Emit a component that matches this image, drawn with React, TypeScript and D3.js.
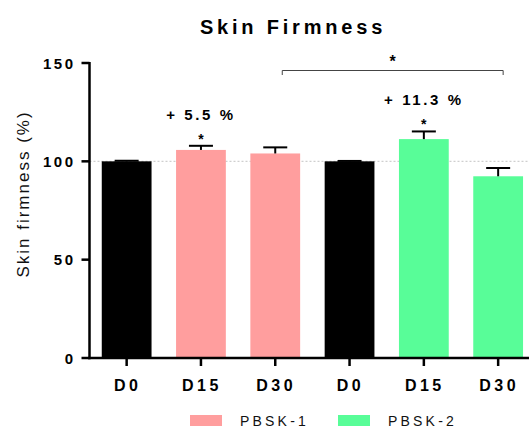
import React from "react";
import * as d3 from "d3";

const categories = ["D0", "D15", "D30", "D0", "D15", "D30"];
const groups = ["ctrl", "PBSK-1", "PBSK-1", "ctrl", "PBSK-2", "PBSK-2"];
const values = [100, 105.8, 104.0, 100, 111.3, 92.4];
const errors = [0.3, 2.1, 3.1, 0.2, 3.9, 4.2];
const stars = [false, true, false, false, true, false];
const yTicks = [0, 50, 100, 150];
const legendItems = ["PBSK-1", "PBSK-2"];
const annotations = [
  { index: 1, text: "+ 5.5 %" },
  { index: 4, text: "+ 11.3 %" },
];

const colors: Record<string, string> = {
  ctrl: "#000000",
  "PBSK-1": "#ff9e9e",
  "PBSK-2": "#58fd98",
};

const W = 529;
const H = 428;
const font = "'Liberation Sans', Arial, sans-serif";

export default function App() {
  const axisX = 89.5;
  const x = d3
    .scaleBand<number>()
    .domain(categories.map((_, i) => i))
    .range([axisX, axisX + 6 * 74.3])
    .paddingInner(0.33)
    .paddingOuter(0.165);
  const y = d3.scaleLinear().domain([0, 150]).range([358, 63]);
  const bw = x.bandwidth();
  const cx = (i: number) => (x(i) as number) + bw / 2;

  return (
    <svg
      width={W}
      height={H}
      style={{ position: "absolute", left: 0, top: 0, background: "#fff" }}
      fontFamily={font}
    >
      <text
        x={293}
        y={34}
        textAnchor="middle"
        fontSize={20}
        fontWeight="bold"
        letterSpacing={3.8}
      >
        Skin Firmness
      </text>

      {/* reference dotted line at 100 */}
      <line
        x1={axisX}
        x2={W}
        y1={y(100)}
        y2={y(100)}
        stroke="#cfcfcf"
        strokeWidth={1.2}
        strokeDasharray="2,2"
      />

      {/* bars */}
      {values.map((v, i) => (
        <rect
          key={"b" + i}
          x={x(i)}
          y={y(v)}
          width={bw}
          height={y(0) - y(v)}
          fill={colors[groups[i]]}
        />
      ))}

      {/* error bars */}
      {values.map((v, i) => (
        <g key={"e" + i} stroke="#000" strokeWidth={2}>
          <line x1={cx(i)} x2={cx(i)} y1={y(v)} y2={y(v + errors[i])} />
          <line
            x1={cx(i) - 12}
            x2={cx(i) + 12}
            y1={y(v + errors[i])}
            y2={y(v + errors[i])}
          />
        </g>
      ))}

      {/* small stars */}
      {values.map((v, i) =>
        stars[i] ? (
          <text
            key={"s" + i}
            x={cx(i)}
            y={y(v + errors[i]) - 2}
            textAnchor="middle"
            fontSize={14}
            fontWeight="bold"
          >
            *
          </text>
        ) : null
      )}

      {/* annotations */}
      {annotations.map((a) => (
        <text
          key={"a" + a.index}
          x={cx(a.index)}
          y={y(values[a.index] + errors[a.index]) - 26}
          textAnchor="middle"
          fontSize={15}
          fontWeight="bold"
          letterSpacing={2.6}
        >
          {a.text}
        </text>
      ))}

      {/* bracket */}
      <g stroke="#444" strokeWidth={1} fill="none">
        <path d={`M${cx(2) + 7},${75} V${70.5} H${cx(5) + 5} V${75}`} />
      </g>
      <text
        x={(cx(2) + 7 + cx(5) + 5) / 2}
        y={67}
        textAnchor="middle"
        fontSize={16}
        fontWeight="bold"
      >
        *
      </text>

      {/* y axis */}
      <line x1={axisX} x2={axisX} y1={y(150) - 1} y2={y(0) + 1.2} stroke="#000" strokeWidth={2.5} />
      {yTicks.map((t) => (
        <g key={"yt" + t}>
          <line x1={axisX - 8} x2={axisX} y1={y(t)} y2={y(t)} stroke="#000" strokeWidth={2.5} />
          <text
            x={axisX - 14}
            y={y(t) + 5.5}
            textAnchor="end"
            fontSize={15}
            fontWeight="bold"
            letterSpacing={2.5}
          >
            {t}
          </text>
        </g>
      ))}
      <text
        transform={`translate(29,${194}) rotate(-90)`}
        textAnchor="middle"
        fontSize={17}
        letterSpacing={2}
        fill="#111"
      >
        Skin firmness (%)
      </text>

      {/* x axis */}
      <line x1={axisX - 1.2} x2={W} y1={y(0)} y2={y(0)} stroke="#000" strokeWidth={2.5} />
      {categories.map((c, i) => (
        <g key={"xt" + i}>
          <line x1={cx(i)} x2={cx(i)} y1={y(0)} y2={y(0) + 8} stroke="#000" strokeWidth={2.5} />
          <text
            x={cx(i) + 1}
            y={391}
            textAnchor="middle"
            fontSize={16}
            fontWeight="bold"
            letterSpacing={3.5}
          >
            {c}
          </text>
        </g>
      ))}

      {/* legend */}
      {legendItems.map((l, i) => (
        <g key={"l" + i} transform={`translate(${190 + i * 148},0)`}>
          <rect x={0} y={415} width={32} height={11} fill={colors[l]} />
          <text x={50} y={426} fontSize={14} letterSpacing={3.2} fill="#111">
            {l}
          </text>
        </g>
      ))}
    </svg>
  );
}
